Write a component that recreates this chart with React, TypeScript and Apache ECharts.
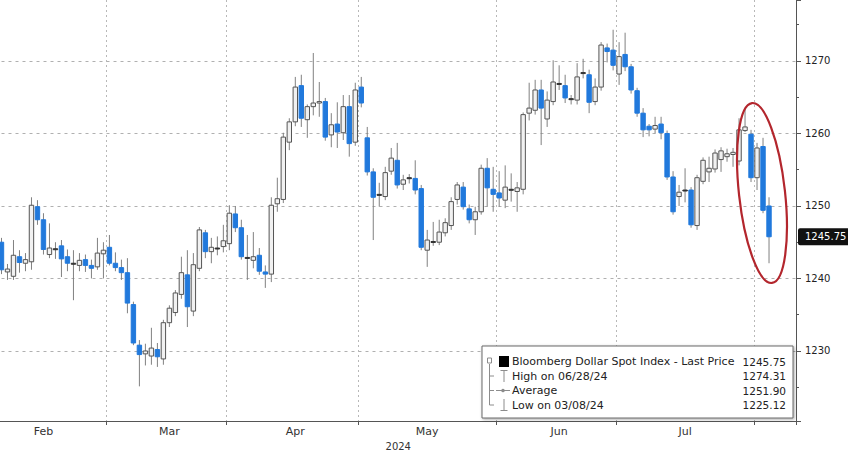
import React, { useEffect, useRef } from 'react';
import * as echarts from 'echarts';

// ---- trading days per month (2024); Good Friday (Mar 29) absent ----
const febDays = [1, 2, 5, 6, 7, 8, 9, 12, 13, 14, 15, 16, 19, 20, 21, 22, 23, 26, 27, 28, 29];
const marDays = [1, 4, 5, 6, 7, 8, 11, 12, 13, 14, 15, 18, 19, 20, 21, 22, 25, 26, 27, 28];
const aprDays = [1, 2, 3, 4, 5, 8, 9, 10, 11, 12, 15, 16, 17, 18, 19, 22, 23, 24, 25, 26, 29, 30];
const mayDays = [1, 2, 3, 6, 7, 8, 9, 10, 13, 14, 15, 16, 17, 20, 21, 22, 23, 24, 27, 28, 29, 30, 31];
const junDays = [3, 4, 5, 6, 7, 10, 11, 12, 13, 14, 17, 18, 19, 20, 21, 24, 25, 26, 27, 28];
const julDays = [1, 2, 3, 4, 5, 8, 9, 10, 11, 12, 15, 16, 17, 18, 19, 22, 23, 24, 25, 26, 29, 30, 31];
const augDays = [1, 2, 5, 6, 7, 8, 9];

const monthNumbers = [2, 3, 4, 5, 6, 7, 8];
const monthDayLists = [febDays, marDays, aprDays, mayDays, junDays, julDays, augDays];
const monthTickLabels = ['Feb', 'Mar', 'Apr', 'May', 'Jun', 'Jul', ''];
const yearLabel = '2024';

const firstCandleDate = '2024-02-06';

// ---- OHLC rows: [open, close, low, high] ----
const febOHLC = [
  [1245.0, 1241.2, 1240.6, 1245.6],
  [1240.9, 1241.3, 1239.8, 1242.0],
  [1240.3, 1243.2, 1239.8, 1245.3],
  [1243.0, 1242.2, 1240.8, 1243.9],
  [1242.1, 1242.6, 1241.0, 1243.5],
  [1242.3, 1250.1, 1241.2, 1251.2],
  [1249.9, 1248.1, 1247.4, 1250.8],
  [1248.1, 1244.0, 1243.3, 1249.0],
  [1243.3, 1244.2, 1242.8, 1247.6],
  [1244.1, 1244.0, 1242.7, 1245.0],
  [1244.5, 1242.7, 1240.2, 1245.3],
  [1243.0, 1242.1, 1241.0, 1244.0],
  [1242.1, 1242.0, 1237.0, 1243.9],
  [1241.8, 1242.5, 1241.0, 1243.5],
  [1242.6, 1241.8, 1240.9, 1243.3],
  [1241.8, 1241.4, 1240.0, 1242.6],
  [1241.6, 1243.5, 1241.2, 1245.6],
  [1243.4, 1243.9, 1240.0, 1245.0],
];
const marOHLC = [
  [1244.3, 1242.1, 1241.8, 1246.0],
  [1242.1, 1241.5, 1241.0, 1243.6],
  [1241.5, 1240.8, 1239.8, 1242.6],
  [1240.8, 1236.6, 1235.2, 1242.8],
  [1236.4, 1231.1, 1230.8, 1236.8],
  [1230.8, 1229.5, 1225.12, 1231.5],
  [1229.6, 1230.0, 1228.0, 1231.0],
  [1229.3, 1230.4, 1228.1, 1233.2],
  [1230.2, 1229.2, 1227.8, 1231.1],
  [1228.9, 1233.9, 1228.1, 1234.3],
  [1233.9, 1235.9, 1233.3, 1236.3],
  [1235.3, 1238.0, 1234.8, 1238.4],
  [1237.8, 1240.8, 1237.2, 1243.0],
  [1240.5, 1236.1, 1233.3, 1243.9],
  [1235.5, 1241.9, 1234.8, 1243.5],
  [1241.4, 1246.7, 1241.0, 1247.1],
  [1246.3, 1243.7, 1242.8, 1246.7],
  [1243.7, 1244.3, 1242.1, 1245.6],
  [1244.2, 1244.1, 1243.2, 1245.8],
  [1244.4, 1245.2, 1243.6, 1247.4],
];
const aprOHLC = [
  [1244.8, 1249.0, 1243.9, 1250.1],
  [1248.9, 1247.0, 1246.4, 1250.0],
  [1247.0, 1243.0, 1242.6, 1248.1],
  [1242.9, 1242.8, 1239.8, 1246.0],
  [1242.5, 1243.0, 1241.4, 1246.4],
  [1243.2, 1241.0, 1240.5, 1244.2],
  [1240.9, 1240.6, 1238.7, 1241.8],
  [1240.6, 1250.1, 1239.5, 1251.2],
  [1250.3, 1251.0, 1249.2, 1253.9],
  [1250.9, 1259.5, 1250.4, 1260.1],
  [1258.8, 1261.6, 1257.7, 1262.1],
  [1261.6, 1266.4, 1261.0, 1267.8],
  [1266.6, 1262.1, 1260.9, 1268.1],
  [1261.9, 1263.7, 1259.4, 1264.0],
  [1263.7, 1264.2, 1262.5, 1271.1],
  [1264.2, 1264.4, 1262.3, 1267.1],
  [1264.4, 1259.5, 1259.0, 1264.9],
  [1259.8, 1261.2, 1258.1, 1262.8],
  [1261.3, 1260.2, 1258.0, 1264.3],
  [1260.1, 1263.7, 1259.1, 1265.3],
  [1263.7, 1258.6, 1256.8, 1265.3],
  [1258.8, 1266.0, 1258.3, 1267.0],
];
const mayOHLC = [
  [1266.4, 1264.2, 1263.6, 1267.8],
  [1259.4, 1254.7, 1254.2, 1260.9],
  [1254.7, 1251.2, 1245.3, 1255.2],
  [1251.5, 1251.6, 1249.9, 1253.2],
  [1251.3, 1254.6, 1250.8, 1255.4],
  [1254.8, 1256.6, 1254.3, 1258.0],
  [1256.3, 1252.9, 1252.4, 1258.7],
  [1253.0, 1253.6, 1252.2, 1254.3],
  [1253.8, 1253.9, 1253.1, 1254.4],
  [1253.8, 1252.2, 1251.6, 1256.3],
  [1252.4, 1244.3, 1243.9, 1252.9],
  [1243.9, 1245.3, 1241.6, 1246.7],
  [1245.1, 1245.0, 1244.5, 1247.8],
  [1245.0, 1246.4, 1244.6, 1248.1],
  [1246.3, 1247.7, 1245.8, 1248.3],
  [1247.3, 1250.6, 1246.7, 1251.2],
  [1250.9, 1252.9, 1250.2, 1253.3],
  [1252.6, 1249.9, 1249.5, 1253.3],
  [1249.6, 1248.1, 1247.6, 1250.2],
  [1248.1, 1249.2, 1246.0, 1249.9],
  [1249.2, 1255.2, 1248.8, 1255.7],
  [1255.2, 1252.5, 1249.9, 1256.6],
  [1252.3, 1251.6, 1249.2, 1255.4],
];
const junOHLC = [
  [1251.8, 1251.1, 1249.9, 1254.8],
  [1250.8, 1252.6, 1249.7, 1255.6],
  [1252.3, 1252.2, 1250.6, 1254.5],
  [1252.0, 1252.5, 1249.2, 1253.3],
  [1252.3, 1262.6, 1251.6, 1262.9],
  [1262.8, 1263.5, 1261.8, 1267.0],
  [1263.2, 1266.0, 1262.6, 1267.4],
  [1266.0, 1263.5, 1258.4, 1267.4],
  [1262.0, 1264.6, 1260.9, 1265.8],
  [1264.4, 1267.1, 1263.9, 1270.1],
  [1266.9, 1266.8, 1266.0, 1269.4],
  [1266.6, 1264.9, 1264.2, 1268.1],
  [1264.8, 1264.7, 1264.0, 1265.3],
  [1264.6, 1267.8, 1264.0, 1269.7],
  [1268.3, 1268.4, 1267.6, 1270.3],
  [1268.1, 1264.3, 1262.8, 1268.8],
  [1264.4, 1266.4, 1263.9, 1267.6],
  [1266.4, 1272.2, 1265.9, 1272.6],
  [1271.8, 1271.3, 1269.8, 1272.4],
  [1271.5, 1269.4, 1268.7, 1274.31],
];
const julOHLC = [
  [1268.2, 1270.6, 1266.7, 1272.6],
  [1270.9, 1269.2, 1268.6, 1273.9],
  [1269.2, 1266.0, 1265.5, 1269.6],
  [1265.9, 1262.8, 1262.3, 1266.3],
  [1262.8, 1260.5, 1259.5, 1263.5],
  [1261.0, 1260.5, 1259.6, 1261.3],
  [1260.6, 1261.1, 1260.0, 1262.3],
  [1261.3, 1260.1, 1259.2, 1262.3],
  [1260.0, 1254.0, 1253.6, 1260.4],
  [1254.0, 1249.2, 1248.8, 1254.8],
  [1251.3, 1251.9, 1250.0, 1252.9],
  [1252.1, 1252.2, 1250.5, 1255.2],
  [1252.2, 1247.4, 1247.0, 1252.6],
  [1247.3, 1253.9, 1246.7, 1254.3],
  [1253.4, 1256.3, 1253.0, 1256.7],
  [1254.7, 1255.2, 1253.3, 1256.8],
  [1255.1, 1257.3, 1254.6, 1257.8],
  [1256.4, 1257.6, 1254.7, 1258.1],
  [1256.8, 1257.2, 1256.1, 1257.9],
  [1257.1, 1257.4, 1255.4, 1258.0],
  [1256.2, 1260.5, 1255.6, 1262.1],
  [1260.4, 1260.9, 1260.2, 1263.5],
  [1259.9, 1253.9, 1253.3, 1260.5],
];
const augOHLC = [
  [1253.9, 1258.0, 1252.2, 1258.7],
  [1258.2, 1249.4, 1249.0, 1259.4],
  [1250.0, 1245.75, 1242.1, 1251.2],
];

const lastPrice = 1245.75;
const legendLabels = [
  'Bloomberg Dollar Spot Index - Last Price',
  'High on 06/28/24',
  'Average',
  'Low on 03/08/24',
];
const legendValues = ['1245.75', '1274.31', '1251.90', '1225.12'];

const FONT = 'DejaVu Sans';
const UP_FILL = '#f1f1f1';
const UP_STROKE = '#555555';
const DOWN = '#2179dc';
const WICK = '#808080';
const GREY = '#8c8c8c';

export default function App() {
  const ref = useRef<HTMLDivElement>(null);

  useEffect(() => {
    const el = ref.current;
    if (!el) return;
    const chart = echarts.init(el, null, { renderer: 'svg' });

    const categories: string[] = [];
    const monthStart = new Set<number>();
    const monthMid: Record<number, string> = {};
    monthDayLists.forEach((days, m) => {
      monthStart.add(categories.length);
      const mm = String(monthNumbers[m]).padStart(2, '0');
      if (monthTickLabels[m]) monthMid[categories.length + Math.floor(days.length / 2)] = monthTickLabels[m];
      days.forEach((d) => categories.push(`2024-${mm}-${String(d).padStart(2, '0')}`));
    });

    const ohlc = [...febOHLC, ...marOHLC, ...aprOHLC, ...mayOHLC, ...junOHLC, ...julOHLC, ...augOHLC];
    const first = categories.indexOf(firstCandleDate);
    const seriesData = ohlc.map((r, i) => [first + i, r[0], r[1], r[2], r[3]]);

    const legendRowY = [361.5, 376, 390.5, 405];
    const legendGraphics: any[] = [
      {
        type: 'rect',
        z: 10,
        shape: { x: 482, y: 346, width: 311, height: 72 },
        style: {
          fill: '#ffffff',
          stroke: '#6a6a6a',
          lineWidth: 1,
          shadowBlur: 3,
          shadowColor: 'rgba(0,0,0,0.35)',
          shadowOffsetX: 1,
          shadowOffsetY: 1,
        },
      },
      // tree connector
      { type: 'line', z: 11, shape: { x1: 489.5, y1: 364, x2: 489.5, y2: 405 }, style: { stroke: GREY, lineWidth: 1 } },
      { type: 'rect', z: 11, shape: { x: 487.5, y: 358, width: 4, height: 5 }, style: { fill: '#fff', stroke: GREY, lineWidth: 1 } },
      { type: 'line', z: 11, shape: { x1: 489.5, y1: 376, x2: 494, y2: 376 }, style: { stroke: GREY, lineWidth: 1 } },
      { type: 'line', z: 11, shape: { x1: 489.5, y1: 390.5, x2: 494, y2: 390.5 }, style: { stroke: GREY, lineWidth: 1 } },
      { type: 'line', z: 11, shape: { x1: 489.5, y1: 405, x2: 494, y2: 405 }, style: { stroke: GREY, lineWidth: 1 } },
      // row 1: black square
      { type: 'rect', z: 11, shape: { x: 499, y: 356, width: 10, height: 11 }, style: { fill: '#000' } },
      // row 2: high marker
      { type: 'line', z: 11, shape: { x1: 500.5, y1: 370.5, x2: 507.5, y2: 370.5 }, style: { stroke: GREY, lineWidth: 1 } },
      { type: 'line', z: 11, shape: { x1: 504, y1: 370.5, x2: 504, y2: 382 }, style: { stroke: GREY, lineWidth: 1 } },
      // row 3: average marker
      { type: 'line', z: 11, shape: { x1: 496, y1: 390.5, x2: 510, y2: 390.5 }, style: { stroke: GREY, lineWidth: 1 } },
      { type: 'circle', z: 11, shape: { cx: 503, cy: 390.5, r: 1.8 }, style: { fill: GREY } },
      // row 4: low marker
      { type: 'line', z: 11, shape: { x1: 504, y1: 399, x2: 504, y2: 410.5 }, style: { stroke: GREY, lineWidth: 1 } },
      { type: 'line', z: 11, shape: { x1: 500.5, y1: 410.5, x2: 507.5, y2: 410.5 }, style: { stroke: GREY, lineWidth: 1 } },
    ];
    legendLabels.forEach((t, i) => {
      legendGraphics.push({
        type: 'text',
        z: 11,
        x: 512,
        y: legendRowY[i],
        style: {
          text: t,
          fill: '#222',
          fontSize: 11,
          fontFamily: FONT,
          align: 'left',
          textAlign: 'left',
          verticalAlign: 'middle',
          textVerticalAlign: 'middle',
        },
      });
      legendGraphics.push({
        type: 'text',
        z: 11,
        x: 786,
        y: legendRowY[i],
        style: {
          text: legendValues[i],
          fill: '#222',
          fontSize: 10.5,
          fontFamily: FONT,
          align: 'right',
          textAlign: 'right',
          verticalAlign: 'middle',
          textVerticalAlign: 'middle',
        },
      });
    });

    const option: any = {
      animation: false,
      backgroundColor: '#ffffff',
      grid: { left: -19.5, right: 52, top: 0, bottom: 30, containLabel: false, outerBoundsMode: 'none' },
      xAxis: {
        type: 'category',
        data: categories,
        boundaryGap: true,
        axisLine: { show: true, lineStyle: { color: '#555', width: 1 } },
        axisTick: {
          show: true,
          alignWithLabel: false,
          interval: (i: number) => monthStart.has(i),
          length: 4,
          lineStyle: { color: '#555' },
        },
        axisLabel: {
          show: true,
          interval: (i: number) => monthMid[i] !== undefined,
          formatter: (_v: string, i: number) => monthMid[i] ?? '',
          color: '#333',
          fontSize: 11,
          fontFamily: FONT,
          margin: 5,
        },
        splitLine: {
          show: true,
          interval: (i: number) => monthStart.has(i),
          lineStyle: { color: '#b8b8b8', type: [2, 3], width: 1 },
        },
        name: yearLabel,
        nameLocation: 'middle',
        nameGap: 17,
        nameTextStyle: { color: '#333', fontSize: 10, fontFamily: FONT, padding: [0, 0, 0, 20] },
      },
      yAxis: {
        type: 'value',
        position: 'right',
        min: 1220.34,
        max: 1278.41,
        axisLine: { show: true, lineStyle: { color: '#555', width: 1 } },
        axisTick: { show: true, inside: false, length: 5, lineStyle: { color: '#555' } },
        minorTick: { show: true, splitNumber: 2, length: 3, lineStyle: { color: '#555' } },
        axisLabel: {
          color: '#222',
          fontSize: 10,
          fontFamily: FONT,
          margin: 9,
          showMinLabel: false,
          showMaxLabel: false,
          formatter: (v: number) => v.toFixed(0),
        },
        splitLine: {
          show: true,
          showMinLine: false,
          showMaxLine: false,
          lineStyle: { color: '#b0b0b0', type: [3, 4], width: 1 },
        },
      },
      series: [
        {
          type: 'custom',
          name: 'Bloomberg Dollar Spot Index',
          data: seriesData,
          encode: { x: 0, y: [1, 2, 3, 4] },
          clip: false,
          renderItem: (_params: any, api: any) => {
            const idx = api.value(0);
            const o = api.value(1);
            const c = api.value(2);
            const l = api.value(3);
            const h = api.value(4);
            const pO = api.coord([idx, o]);
            const pC = api.coord([idx, c]);
            const pL = api.coord([idx, l]);
            const pH = api.coord([idx, h]);
            const w = 4.4;
            const x = pO[0];
            const top = Math.min(pO[1], pC[1]);
            const ht = Math.max(Math.abs(pO[1] - pC[1]), 1);
            const doji = Math.abs(c - o) < 0.15;
            const up = c > o;
            const fill = doji ? '#333' : up ? UP_FILL : DOWN;
            const stroke = doji ? '#333' : up ? UP_STROKE : DOWN;
            return {
              type: 'group',
              children: [
                { type: 'line', shape: { x1: x, y1: pH[1], x2: x, y2: pL[1] }, style: { stroke: WICK, lineWidth: 1 } },
                {
                  type: 'rect',
                  shape: { x: x - w / 2, y: top, width: w, height: ht },
                  style: { fill, stroke, lineWidth: 1 },
                },
              ],
            };
          },
          markLine: {
            silent: true,
            symbol: ['none', 'none'],
            lineStyle: { color: 'rgba(0,0,0,0)', width: 0, type: 'solid' },
            label: {
              show: true,
              position: 'end',
              distance: 2,
              formatter: lastPrice.toFixed(2),
              color: '#ffffff',
              backgroundColor: '#111111',
              borderRadius: 2,
              padding: [4, 6, 3, 7],
              fontSize: 10,
              fontFamily: FONT,
              opacity: 1,
            },
            data: [{ yAxis: lastPrice }],
          },
        },
      ],
      graphic: [
        ...legendGraphics,
        {
          type: 'ellipse',
          z: 20,
          x: 762,
          y: 193,
          rotation: 0.11,
          shape: { cx: 0, cy: 0, rx: 23, ry: 90.5 },
          style: { fill: 'transparent', stroke: '#b3262d', lineWidth: 2.2 },
        },
      ],
    };

    chart.setOption(option);
    return () => {
      chart.dispose();
    };
  }, []);

  return <div ref={ref} style={{ position: 'absolute', left: 0, top: 0, width: 848, height: 451 }} />;
}
